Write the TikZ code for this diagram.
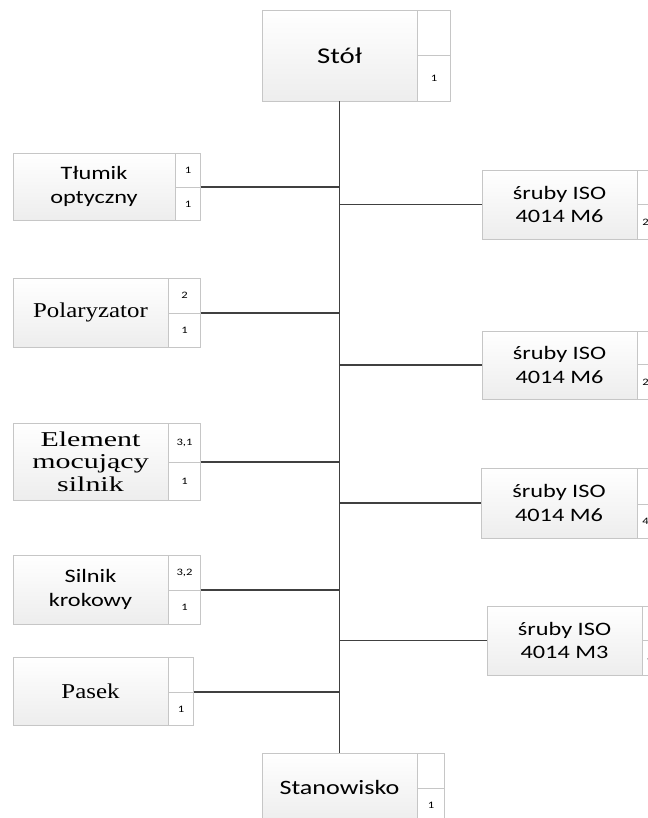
\documentclass[tikz,border=0pt]{standalone}
\usepackage{fontspec}
\setmainfont{Liberation Serif}[FakeStretch=1.18]
\setsansfont{Carlito}[FakeStretch=1.28]
\newfontfamily\widerm{Liberation Serif}[FakeStretch=1.42]
\usetikzlibrary{shadows}

\newlength\px
\setlength\px{0.025cm}

\begin{document}
\begin{tikzpicture}[
    x=0.025cm, y=-0.025cm,
    box/.style={rectangle, draw=gray!45, shading=axis, top color=white, bottom color=gray!14,
        inner sep=0pt, align=center, minimum width=155\px, minimum height=69\px,
        drop shadow={shadow xshift=2\px, shadow yshift=-1\px, fill=gray!45, opacity=0.6}},
    sans/.style={font=\sffamily\fontsize{13.5}{16.5}\selectfont},
    serif/.style={font=\rmfamily\fontsize{15}{16}\selectfont},
    side/.style={rectangle, draw=gray!45, fill=white, inner sep=0pt, anchor=north west,
        minimum width=32\px, font=\sffamily\fontsize{7}{8}\selectfont},
    link/.style={draw=black!75, line width=1.2pt}
]
    \useasboundingbox (0,0) rectangle (648,818);
    \clip (0,0) rectangle (648,818);

    % --- TOP AND BOTTOM ---
    \node[box, font=\sffamily\fontsize{16}{18}\selectfont, minimum height=91\px] (stol) at (339.5,55.5) {Stół};
    \node[side, minimum width=33\px, minimum height=45\px] (stolA) at (stol.north east) {};
    \node[side, minimum width=33\px, minimum height=46\px] (stolB) at (stolA.south west) {1};

    \node[box, font=\sffamily\fontsize{14.5}{17}\selectfont] (stan) at (339.5,787.5) {Stanowisko};
    \node[side, minimum width=27\px, minimum height=35\px] (stanA) at (stan.north east) {};
    \node[side, minimum width=27\px, minimum height=34\px] (stanB) at (stanA.south west) {1};

    % Spine
    \draw[link] (stol.south) -- (stan.north);

    % --- LEFT COLUMN ---
    \node[box, sans, minimum width=162\px, minimum height=67\px] (tlumik) at (94,186.5) {Tłumik\\optyczny};
    \node[side, minimum width=25\px, minimum height=34\px] (tlumikA) at (tlumik.north east) {1};
    \node[side, minimum width=25\px, minimum height=33\px] (tlumikB) at (tlumikA.south west) {1};

    \node[box, serif] (polar) at (90.5,312.5) {Polaryzator};
    \node[side, minimum height=35\px] (polarA) at (polar.north east) {2};
    \node[side, minimum height=34\px] (polarB) at (polarA.south west) {1};

    \node[box, font=\widerm\fontsize{15}{16}\selectfont, minimum height=77\px] (elem) at (90.5,461.5) {Element\\mocujący\\silnik};
    \node[side, minimum height=39\px] (elemA) at (elem.north east) {3,1};
    \node[side, minimum height=38\px] (elemB) at (elemA.south west) {1};

    \node[box, sans] (silnik) at (90.5,589.5) {Silnik\\krokowy};
    \node[side, minimum height=35\px] (silnikA) at (silnik.north east) {3,2};
    \node[side, minimum height=34\px] (silnikB) at (silnikA.south west) {1};

    \node[box, serif, minimum height=68\px] (pasek) at (90.5,691) {Pasek};
    \node[side, minimum width=25\px, minimum height=35\px] (pasekA) at (pasek.north east) {};
    \node[side, minimum width=25\px, minimum height=33\px] (pasekB) at (pasekA.south west) {1};

    % Left connectors
    \draw[link] (tlumikB.north east) -- (tlumikB.north east -| stol.south);
    \draw[link] (polarB.north east) -- (polarB.north east -| stol.south);
    \draw[link] (elemB.north east) -- (elemB.north east -| stol.south);
    \draw[link] (silnikB.north east) -- (silnikB.north east -| stol.south);
    \draw[link] (pasekB.north east) -- (pasekB.north east -| stol.south);

    % --- RIGHT COLUMN ---
    \node[box, sans] (sruba1) at (559.5,204.5) {śruby ISO\\4014 M6};
    \node[side, minimum width=16\px, minimum height=34\px] (sruba1A) at (sruba1.north east) {};
    \node[side, minimum width=16\px, minimum height=35\px] (sruba1B) at (sruba1A.south west) {2};

    \node[box, sans, minimum height=68\px] (sruba2) at (559.5,365) {śruby ISO\\4014 M6};
    \node[side, minimum width=16\px, minimum height=33\px] (sruba2A) at (sruba2.north east) {};
    \node[side, minimum width=16\px, minimum height=35\px] (sruba2B) at (sruba2A.south west) {2};

    \node[box, sans, minimum width=156\px, minimum height=70\px] (sruba3) at (559,503) {śruby ISO\\4014 M6};
    \node[side, minimum width=16\px, minimum height=36\px] (sruba3A) at (sruba3.north east) {};
    \node[side, minimum width=16\px, minimum height=34\px] (sruba3B) at (sruba3A.south west) {4};

    \node[box, sans] (sruba4) at (564.5,640.5) {śruby ISO\\4014 M3};
    \node[side, minimum width=16\px, minimum height=34\px] (sruba4A) at (sruba4.north east) {};
    \node[side, minimum width=16\px, minimum height=35\px] (sruba4B) at (sruba4A.south west) {4};

    % Right connectors
    \draw[link] (sruba1.west -| stol.south) -- (sruba1.west);
    \draw[link] (sruba2.west -| stol.south) -- (sruba2.west);
    \draw[link] (sruba3.west -| stol.south) -- (sruba3.west);
    \draw[link] (sruba4.west -| stol.south) -- (sruba4.west);

\end{tikzpicture}
\end{document}
